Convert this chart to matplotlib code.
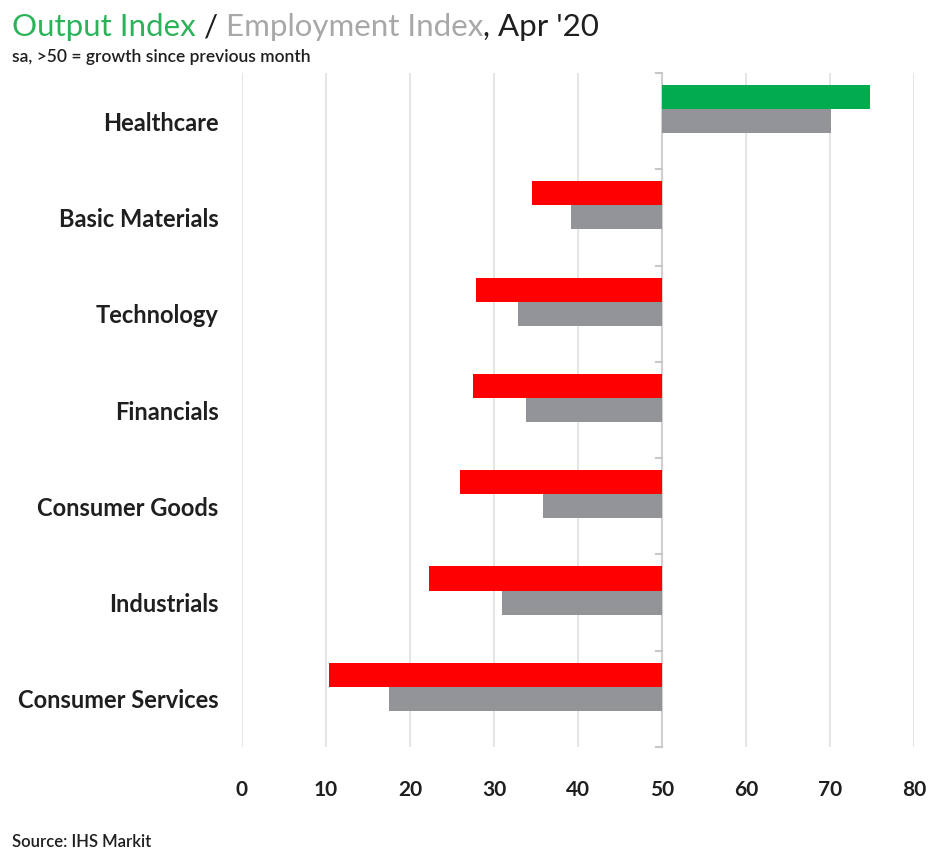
import matplotlib.pyplot as plt
import numpy as np

plt.rcParams["font.family"] = ["Lato", "DejaVu Sans"]

sectors = ["Healthcare", "Basic Materials", "Technology", "Financials",
           "Consumer Goods", "Industrials", "Consumer Services"]
output_idx = [74.8, 34.5, 27.9, 27.5, 26.0, 22.3, 10.4]
employment_idx = [70.1, 39.2, 32.8, 33.8, 35.8, 30.9, 17.5]
xticks = [0, 10, 20, 30, 40, 50, 60, 70, 80]

GREEN = "#00ac4e"
RED = "#ff0000"
GREY = "#939497"
TEXT = "#1f1f1f"

fig = plt.figure(figsize=(9.32, 8.52), dpi=100)
ax = fig.add_axes([242 / 932, 1 - 747 / 852, (914 - 242) / 932, (747 - 73) / 852])

y = np.arange(len(sectors))
out_colors = [GREEN if v > 50 else RED for v in output_idx]

# bars grow out of the 50 line (growth vs contraction)
ax.barh(y - 0.25, np.array(output_idx) - 50, left=50, height=0.25,
        color=out_colors, zorder=3)
ax.barh(y, np.array(employment_idx) - 50, left=50, height=0.25,
        color=GREY, zorder=3)

ax.set_xlim(0, 80)
ax.set_ylim(len(sectors) - 0.5, -0.5)

for x in xticks:
    ax.axvline(x, color="#e0e0e0", lw=1.2, zorder=1)

# category axis sits on the 50 line, with little ticks between sectors
ax.axvline(50, color="#d0d0d0", lw=1.5, zorder=2)
for b in np.arange(len(sectors) + 1) - 0.5:
    ax.plot([49.3, 50], [b, b], color="#c8c8c8", lw=1.5, zorder=2,
            clip_on=False)

for s in ax.spines.values():
    s.set_visible(False)

ax.set_xticks(xticks)
ax.set_xticklabels([str(t) for t in xticks], fontsize=15, fontweight="bold",
                   color=TEXT)
ax.tick_params(axis="x", length=0, pad=24)
ax.set_yticks(y)
ax.set_yticklabels(sectors, fontsize=17, color=TEXT, fontweight="bold")
ax.tick_params(axis="y", length=0, pad=17)

# headline in three colours
t1 = fig.text(12 / 932, 1 - 36 / 852, "Output Index", fontsize=22.5,
              color="#2bb35a", va="baseline")
t2 = ax.annotate(" / ", xy=(1, 0), xycoords=t1, fontsize=22.5, color=TEXT,
                 va="bottom")
t3 = ax.annotate("Employment Index", xy=(1, 0), xycoords=t2, fontsize=22.5,
                 color="#a8a8a8", va="bottom")
ax.annotate(", Apr '20", xy=(1, 0), xycoords=t3, fontsize=22.5, color=TEXT,
            va="bottom")

fig.text(12 / 932, 1 - 62 / 852, "sa, >50 = growth since previous month",
         fontsize=12.5, color=TEXT, fontweight="semibold")
fig.text(12 / 932, 1 - 847 / 852, "Source: IHS Markit", fontsize=12,
         color=TEXT, fontweight="semibold")

fig.savefig("out.png", dpi=100)
